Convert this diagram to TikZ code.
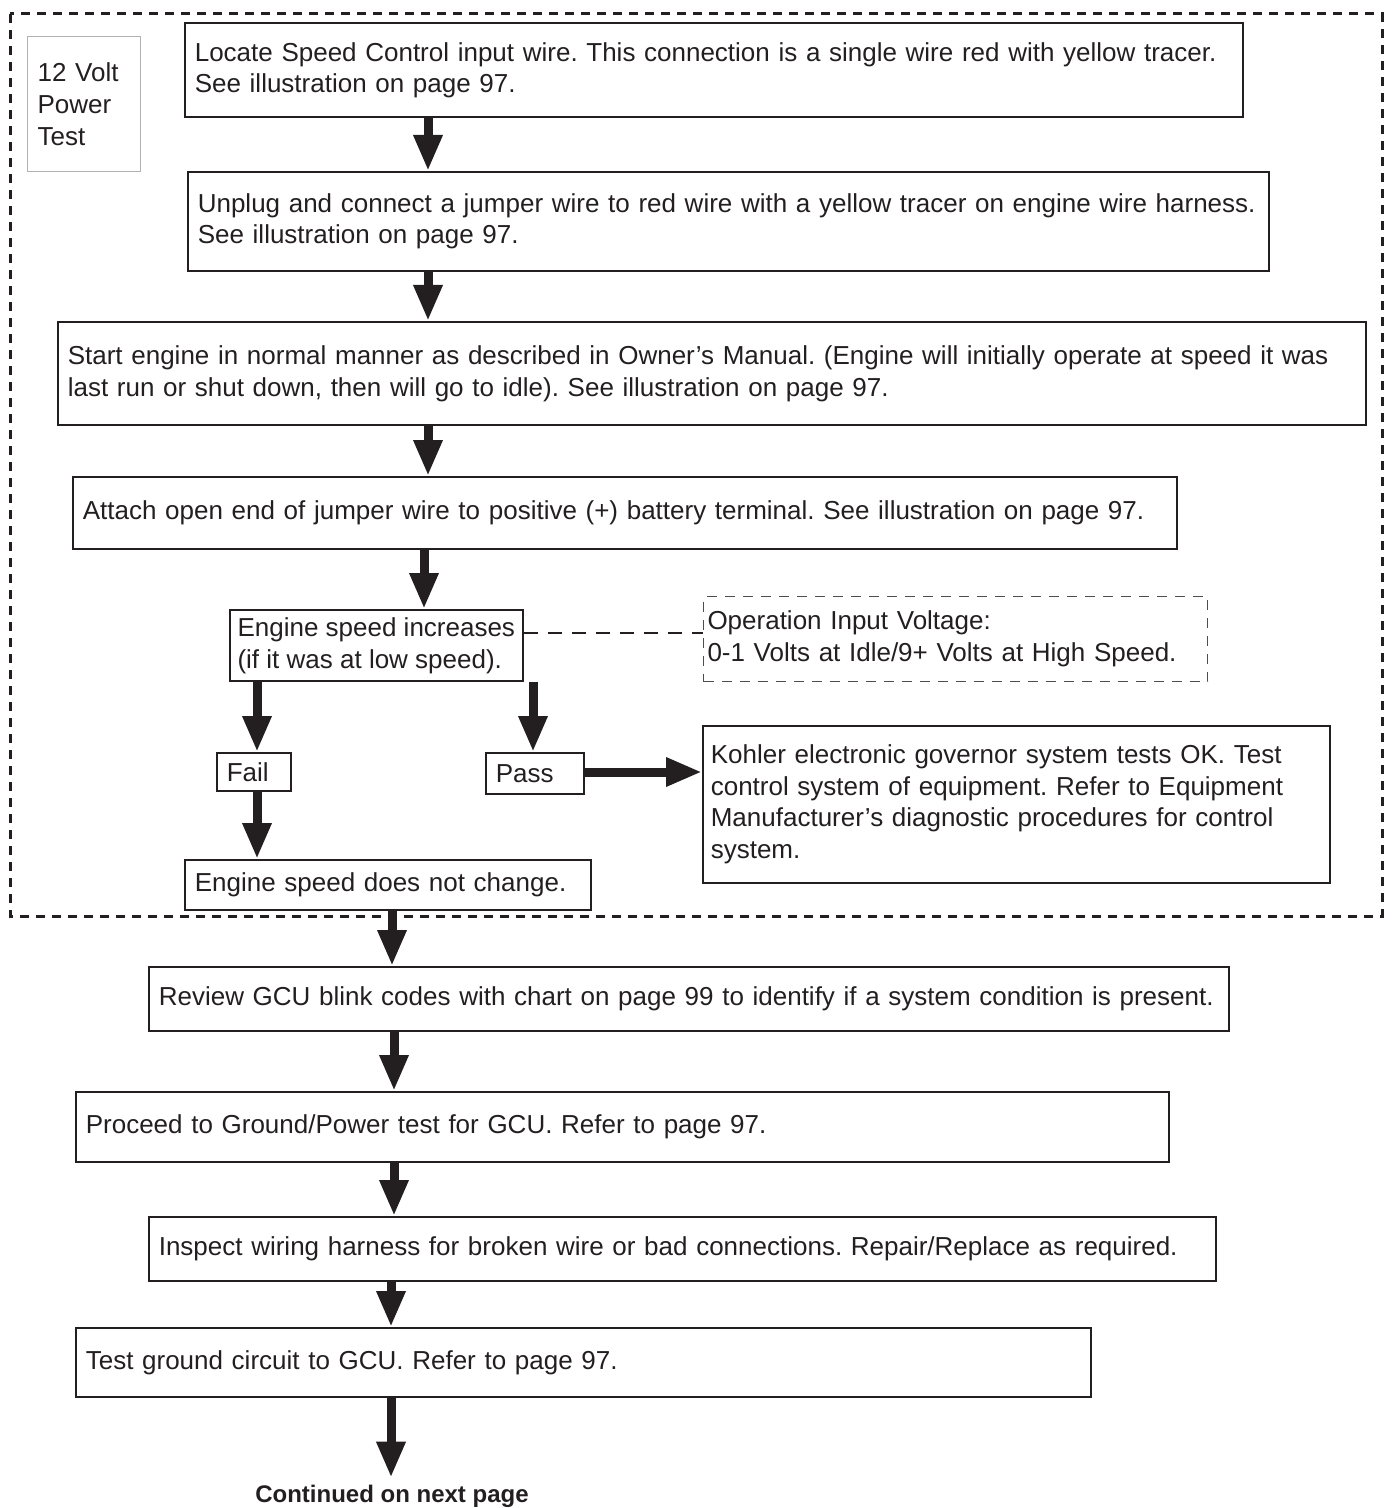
\documentclass[tikz,border=0pt]{standalone}
\usepackage{fontspec}
\setmainfont{Liberation Sans}
\usepackage{tikz}
\usetikzlibrary{arrows.meta,positioning}
\definecolor{ink}{HTML}{231F20}
\frenchspacing

\begin{document}
\begin{tikzpicture}[x=0.5pt,y=-0.5pt,>=Latex,
  every node/.style={font=\fontsize{13}{15.5}\selectfont,text=ink}]
\tikzstyle{box}=[draw=ink,line width=0.8pt,anchor=north west,align=left,inner xsep=5pt,inner ysep=0pt]
\tikzstyle{flow}=[draw=ink,line width=4.5pt,-{Triangle[length=18pt,width=13.5pt]}]
\useasboundingbox (0,0) rectangle (1392,1508);
% dashed frame of the 12 volt test
\draw[ink,line width=1.5pt,dash pattern=on 4.5pt off 3.5pt] (10,14) rectangle (1382,916);
\node[box,draw=black!30,line width=0.6pt,text width=46.5pt,minimum height=67.5pt,
  font=\fontsize{13}{16}\selectfont] (title) at (27,36) {12 Volt\\Power\\Test};
\node[box,text width=519pt,minimum height=47pt] (locate) at (184,22)
  {Locate Speed Control input wire. This connection is a single wire red with yellow tracer.\\See illustration on page 97.};
\node[box,text width=530.5pt,minimum height=49.5pt] (unplug) at (187,171)
  {Unplug and connect a jumper wire to red wire with a yellow tracer on engine wire harness.\\See illustration on page 97.};
\node[box,text width=644pt,minimum height=51.5pt,font=\fontsize{13}{16}\selectfont] (start) at (57,321)
  {Start engine in normal manner as described in Owner’s Manual. (Engine will initially operate at speed it was\\last run or shut down, then will go to idle). See illustration on page 97.};
\node[box,text width=542pt,minimum height=36pt] (attach) at (72,476)
  {Attach open end of jumper wire to positive (+) battery terminal. See illustration on page 97.};
\node[box,inner xsep=2.5pt,minimum width=146.5pt,minimum height=35.5pt,font=\fontsize{13}{16}\selectfont] (incr) at (229,609)
  {Engine speed increases\\(if it was at low speed).};
\node[box,draw=ink!80,line width=0.5pt,dash pattern=on 5pt off 4pt,inner xsep=2pt,
  text width=248pt,minimum height=42.5pt,font=\fontsize{13}{16}\selectfont] (volt) at (703,596)
  {Operation Input Voltage:\\0-1 Volts at Idle/9+ Volts at High Speed.};
\node[box,text width=27pt,minimum height=19pt,inner xsep=5pt] (fail) at (216,752) {Fail};
\node[box,text width=39pt,minimum height=20.5pt] (pass) at (485,752) {Pass};
\node[box,inner xsep=4pt,text width=305.5pt,minimum height=78.5pt,font=\fontsize{13}{15.7}\selectfont] (ok) at (702,725)
  {Kohler electronic governor system tests OK. Test\\control system of equipment. Refer to Equipment\\Manufacturer’s diagnostic procedures for control\\system.};
\node[box,text width=193pt,minimum height=25pt] (nochange) at (184,859) {Engine speed does not change.};
\node[box,text width=530pt,minimum height=32pt] (review) at (148,966)
  {Review GCU blink codes with chart on page 99 to identify if a system condition is present.};
\node[box,text width=536.5pt,minimum height=35pt] (ground) at (75,1091)
  {Proceed to Ground/Power test for GCU. Refer to page 97.};
\node[box,text width=523.5pt,minimum height=32pt] (wiring) at (148,1216)
  {Inspect wiring harness for broken wire or bad connections. Repair/Replace as required.};
\node[box,text width=497.5pt,minimum height=34.5pt] (circuit) at (75,1327)
  {Test ground circuit to GCU. Refer to page 97.};
\node[font=\fontsize{12}{15}\selectfont\bfseries] (next) at (392,1496) {Continued on next page};
% connectors
\draw[flow] (locate.south -| 428,0) -- (unplug.north -| 428,0);
\draw[flow] (unplug.south -| 428,0) -- (start.north -| 428,0);
\draw[flow] (start.south -| 428,0) -- (attach.north -| 428,0);
\draw[flow] (attach.south -| 424,0) -- (incr.north -| 424,0);
\draw[flow] (incr.south -| 257,0) -- (fail.north -| 257,0);
\draw[flow] (incr.south -| 533,0) -- (pass.north -| 533,0);
\draw[flow] (pass.east |- 0,772) -- (ok.west |- 0,772);
\draw[flow] (fail.south -| 257,0) -- (nochange.north -| 257,0);
\draw[flow] (nochange.south -| 392,0) -- (review.north -| 392,0);
\draw[flow] (review.south -| 394,0) -- (ground.north -| 394,0);
\draw[flow] (ground.south -| 394,0) -- (wiring.north -| 394,0);
\draw[flow] (wiring.south -| 391,0) -- (circuit.north -| 391,0);
\draw[flow] (circuit.south -| 391,0) -- (next.north -| 391,0);
\draw[ink,line width=1pt,dash pattern=on 7pt off 5pt] (incr.east |- 0,633) -- (volt.west |- 0,633);
\end{tikzpicture}
\end{document}
